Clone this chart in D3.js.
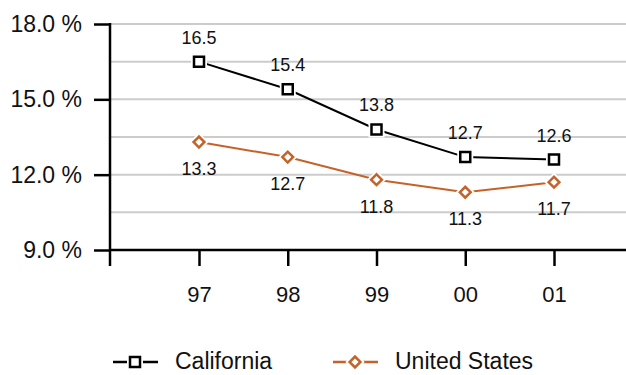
<!DOCTYPE html>
<html>
<head>
<meta charset="utf-8">
<script src="https://cdn.jsdelivr.net/npm/d3@7"></script>
<style>
  body { margin: 0; background: #fff; }
  text { font-family: "Liberation Sans", Arial, sans-serif; fill: #111; }
</style>
</head>
<body>
<div id="container"></div>
<script>
// chart data
const years = ['97', '98', '99', '00', '01'];
const california = [16.5, 15.4, 13.8, 12.7, 12.6];
const unitedStates = [13.3, 12.7, 11.8, 11.3, 11.7];
const yTicks = [9, 12, 15, 18];
const gridValues = [10.5, 12, 13.5, 15, 16.5, 18];

const width = 626, height = 375;
const svg = d3.select('#container').append('svg')
    .attr('width', width)
    .attr('height', height);

const axisX = 110;
const x = d3.scalePoint().domain(years).range([199, 554]);
const y = d3.scaleLinear().domain([9, 18]).range([250, 24]);

// gridlines
svg.append('g').selectAll('line')
    .data(gridValues)
    .enter().append('line')
    .attr('x1', axisX).attr('x2', width)
    .attr('y1', d => y(d)).attr('y2', d => y(d))
    .attr('stroke', '#cccccc')
    .attr('stroke-width', 2);

// y axis
const yAxis = svg.append('g').attr('transform', `translate(${axisX},0)`)
    .call(d3.axisLeft(y).tickValues(yTicks).tickSize(16).tickPadding(12)
        .tickFormat(d => d3.format('.1f')(d) + ' %'));
yAxis.select('.domain').remove();
yAxis.selectAll('line').attr('stroke', '#000').attr('stroke-width', 2.5);
yAxis.selectAll('text').attr('font-size', 23).style('fill', '#111');
svg.append('line')
    .attr('x1', axisX).attr('x2', axisX)
    .attr('y1', y(18) - 1).attr('y2', 266)
    .attr('stroke', '#000').attr('stroke-width', 2.5);

// x axis
const xAxis = svg.append('g').attr('transform', `translate(0,${y(9)})`)
    .call(d3.axisBottom(x).tickSize(16).tickPadding(20));
xAxis.select('.domain').remove();
xAxis.selectAll('line').attr('stroke', '#000').attr('stroke-width', 2.5);
xAxis.selectAll('text').attr('font-size', 22).style('fill', '#111');
svg.append('line')
    .attr('x1', axisX - 1).attr('x2', width)
    .attr('y1', y(9)).attr('y2', y(9))
    .attr('stroke', '#000').attr('stroke-width', 2.5);

const orange = '#c5622a';
const series = [
    { name: 'California', values: california, color: '#000', size: 100, rotate: 0, labelDy: -18 },
    { name: 'United States', values: unitedStates, color: orange, size: 58, rotate: 45, labelDy: 33 }
];

const line = d3.line()
    .x((d, i) => x(years[i]))
    .y(d => y(d));

function drawMarker(g, s) {
    const sym = d3.symbol().type(d3.symbolSquare).size(s.size);
    g.append('path').attr('d', sym)
        .attr('transform', `rotate(${s.rotate})`)
        .attr('fill', 'none').attr('stroke', '#fff').attr('stroke-width', 6);
    g.append('path').attr('d', sym)
        .attr('transform', `rotate(${s.rotate})`)
        .attr('fill', '#fff').attr('stroke', s.color).attr('stroke-width', 2.5);
}

series.forEach(s => {
    svg.append('path')
        .datum(s.values)
        .attr('d', line)
        .attr('fill', 'none')
        .attr('stroke', s.color)
        .attr('stroke-width', 2);

    svg.append('g').selectAll('g')
        .data(s.values)
        .enter().append('g')
        .attr('transform', (d, i) => `translate(${x(years[i])},${y(d)})`)
        .each(function () { drawMarker(d3.select(this), s); });

    svg.append('g').selectAll('text')
        .data(s.values)
        .enter().append('text')
        .attr('x', (d, i) => x(years[i]))
        .attr('y', d => y(d) + s.labelDy)
        .attr('text-anchor', 'middle')
        .attr('font-size', 18)
        .text(d => d3.format('.1f')(d));
});

// legend
const legend = svg.append('g').attr('transform', 'translate(0,362)');
const legendItems = [
    { s: series[0], x0: 113, tx: 175 },
    { s: series[1], x0: 333, tx: 395 }
];
legendItems.forEach(({ s, x0, tx }) => {
    legend.append('line')
        .attr('x1', x0).attr('x2', x0 + 45)
        .attr('y1', 0).attr('y2', 0)
        .attr('stroke', s.color).attr('stroke-width', 2.5);
    drawMarker(legend.append('g').attr('transform', `translate(${x0 + 22},0)`), s);
    legend.append('text')
        .attr('x', tx).attr('y', 7)
        .attr('font-size', 23)
        .text(s.name);
});
</script>
</body>
</html>
